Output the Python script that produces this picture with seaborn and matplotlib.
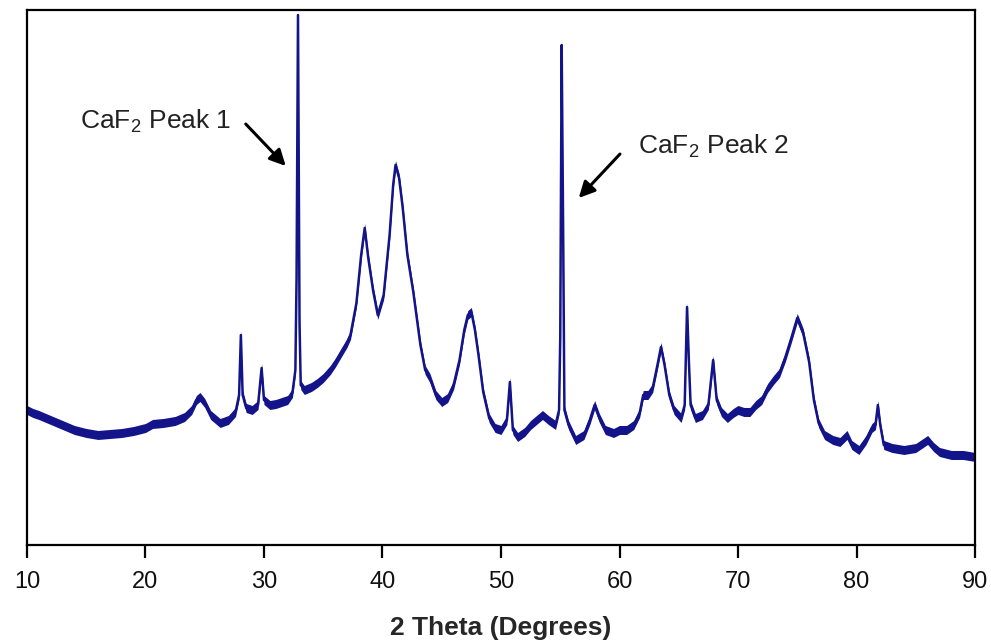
import seaborn as sns
import matplotlib.pyplot as plt
import pandas as pd

# XRD pattern (intensity in arbitrary units)
theta = [10.0, 10.5, 11.0, 12.0, 13.0, 14.0, 15.0, 16.0, 17.0, 18.0, 19.0, 20.0,
         20.6, 21.5, 22.5, 23.3, 23.9, 24.3, 24.6, 25.0, 25.5, 26.3, 27.0, 27.6,
         27.9, 28.05, 28.2, 28.5, 29.0, 29.5, 29.8, 30.0, 30.5, 31.0, 31.5, 32.0,
         32.4, 32.65, 32.75, 32.87, 33.0, 33.1, 33.4, 34.0, 34.5, 35.0, 35.6, 36.0,
         36.4, 37.0, 37.3, 37.8, 38.2, 38.5, 38.8, 39.2, 39.6, 40.1, 40.6, 40.9,
         41.1, 41.4, 41.7, 42.1, 42.6, 43.2, 43.6, 44.0, 44.5, 45.0, 45.5, 46.0,
         46.5, 46.9, 47.2, 47.5, 47.8, 48.1, 48.5, 49.0, 49.5, 50.0, 50.5, 50.75,
         51.0, 51.4, 52.0, 52.5, 53.0, 53.5, 54.0, 54.6, 54.9, 55.0, 55.12, 55.25,
         55.35, 55.7, 56.3, 57.0, 57.5, 57.9, 58.3, 58.8, 59.5, 60.0, 60.6, 61.2,
         61.7, 62.0, 62.4, 62.8, 63.2, 63.5, 63.8, 64.2, 64.6, 65.2, 65.5, 65.7,
         65.85, 66.0, 66.4, 67.0, 67.5, 67.9, 68.2, 68.6, 69.1, 69.6, 70.0, 70.5,
         71.0, 71.5, 72.0, 72.5, 73.0, 73.5, 74.0, 74.5, 75.0, 75.5, 76.0, 76.4,
         76.8, 77.3, 78.0, 78.6, 79.2, 79.6, 80.2, 80.8, 81.3, 81.6, 81.8, 82.0,
         82.3, 83.0, 84.0, 85.0, 86.0, 86.5, 87.0, 88.0, 89.0, 90.0]
intensity = [135, 132, 130, 125, 120, 115, 112, 110, 111, 112, 114, 117,
             121, 122, 124, 128, 135, 145, 148, 142, 130, 122, 125, 133,
             150, 210, 150, 137, 135, 140, 177, 145, 140, 141, 143, 145,
             152, 175, 268, 530, 222, 160, 155, 158, 162, 167, 175, 182,
             190, 202, 210, 242, 290, 317, 287, 255, 230, 250, 310, 360,
             380, 367, 338, 290, 253, 200, 175, 167, 150, 143, 147, 160,
             185, 215, 230, 233, 215, 190, 153, 127, 117, 115, 125, 163,
             115, 108, 113, 120, 125, 130, 125, 120, 135, 208, 500, 305,
             135, 120, 105, 110, 125, 140, 127, 115, 112, 115, 115, 120,
             132, 150, 150, 157, 180, 198, 180, 150, 135, 127, 140, 238,
             185, 140, 127, 130, 140, 185, 145, 133, 127, 132, 135, 133,
             133, 140, 145, 157, 165, 172, 188, 207, 227, 212, 183, 145,
             122, 110, 105, 103, 110, 100, 95, 105, 117, 120, 140, 120,
             100, 97, 95, 97, 105, 98, 93, 90, 90, 88]
noise = 4.5  # half height of the noisy band

xticks = [10, 20, 30, 40, 50, 60, 70, 80, 90]
peak_labels = ["CaF$_2$ Peak 1", "CaF$_2$ Peak 2"]

df = pd.DataFrame({"theta": theta, "intensity": intensity})

sns.set_theme(style="white")
plt.rcParams["font.family"] = ["Liberation Sans", "DejaVu Sans"]
plt.rcParams["mathtext.fontset"] = "custom"
plt.rcParams["mathtext.rm"] = "Liberation Sans"

fig = plt.figure(figsize=(9.91, 6.41), dpi=100)
ax = fig.add_axes([0.0272, 0.1498, 0.9567, 0.8346])

navy = "#14148a"
ax.fill_between(df["theta"], df["intensity"] - noise, df["intensity"] + noise,
                color=navy, lw=0)
sns.lineplot(data=df, x="theta", y="intensity", color=navy, lw=1.8, ax=ax)

ax.set_xlim(10, 90)
ax.set_ylim(0, 535)
ax.set_xticks(xticks)
ax.set_yticks([])
ax.set_ylabel("")
ax.set_xlabel("2 Theta (Degrees)", fontsize=19, fontweight="bold", labelpad=16)
ax.tick_params(axis="x", direction="out", length=9, width=1.6, color="black",
               labelsize=17, labelcolor="#111111", pad=10, bottom=True)

for s in ax.spines.values():
    s.set_color("black")
    s.set_linewidth(1.6)

# annotations with arrows
arrow = dict(arrowstyle="-|>", color="black", lw=2.2, mutation_scale=24)
ax.annotate("", xy=(32.0, 377), xytext=(28.3, 423), arrowprops=arrow)
ax.text(14.47, 424, peak_labels[0], fontsize=19, va="center", ha="left", color="#222222")
ax.annotate("", xy=(56.4, 345), xytext=(60.2, 393), arrowprops=arrow)
ax.text(61.56, 399, peak_labels[1], fontsize=19, va="center", ha="left", color="#222222")

fig.savefig("out.png", dpi=100)
